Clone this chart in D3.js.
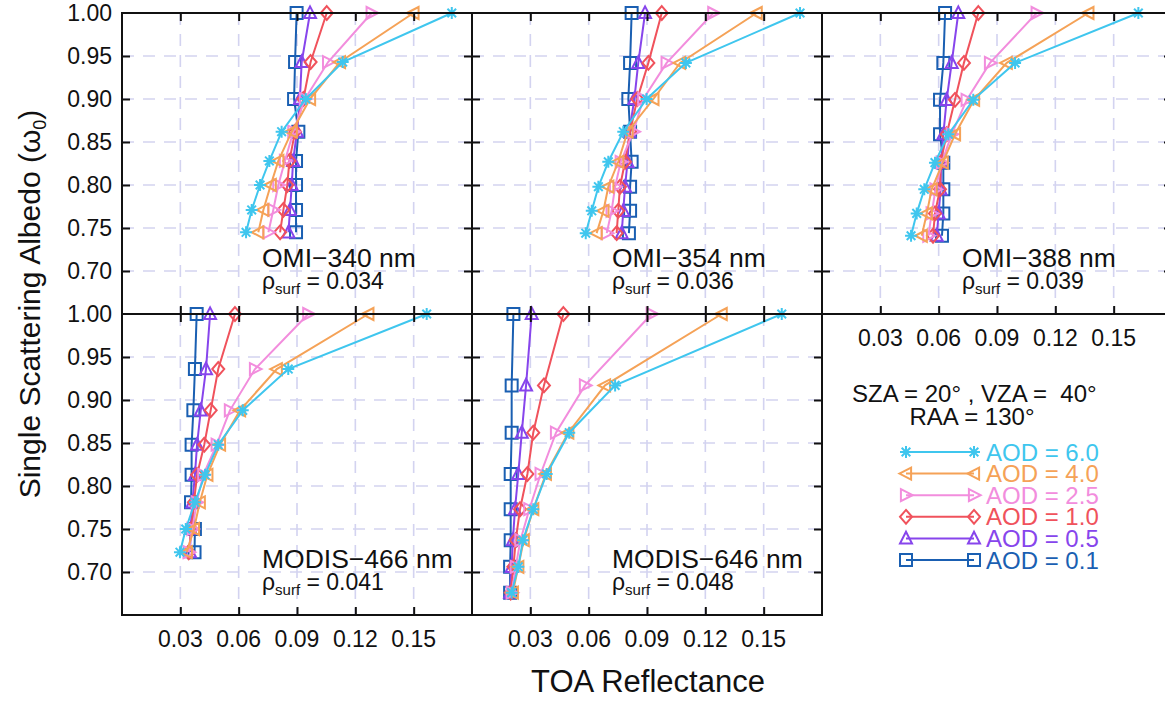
<!DOCTYPE html>
<html><head><meta charset="utf-8">
<script src="https://cdn.jsdelivr.net/npm/d3@7"></script>
<style>
body{margin:0;background:#fff}
svg{display:block}
text{font-family:"Liberation Sans",Arial,Helvetica,sans-serif;fill:#111}
</style>
</head><body><svg id="c" width="1165" height="701"></svg>
<script>
// ---------------- DATA ----------------
const panelNames = ["OMI\u2212340 nm","OMI\u2212354 nm","OMI\u2212388 nm","MODIS\u2212466 nm","MODIS\u2212646 nm"];
const rhoSurf = ["0.034","0.036","0.039","0.041","0.048"];
const aodLabels = ["6.0","4.0","2.5","1.0","0.5","0.1"];
const aodColors = ["#3fc6ee","#f5a257","#f28ddd","#f0525c","#8745ec","#1a5fb2"];
const aodMarkers = ["asterisk","triLeft","triRight","diamond","triUp","square"];
const yTicks = [0.70,0.75,0.80,0.85,0.90,0.95,1.00];
const xTicks = [0.03,0.06,0.09,0.12,0.15];

// single scattering albedo per panel
const ssa340 = [1.00,0.943,0.900,0.862,0.828,0.800,0.771,0.745];
const ssa354 = [1.00,0.942,0.900,0.862,0.827,0.798,0.770,0.744];
const ssa388 = [1.00,0.942,0.899,0.859,0.826,0.795,0.767,0.741];
const ssa466 = [1.00,0.936,0.888,0.848,0.813,0.781,0.750,0.723];
const ssa646 = [1.00,0.917,0.862,0.814,0.773,0.737,0.706,0.676];

// TOA reflectance, rows in aodLabels order (6.0,4.0,2.5,1.0,0.5,0.1)
const toa340 = [
  [0.1696,0.1135,0.0945,0.0821,0.0758,0.0710,0.0667,0.0638],
  [0.1499,0.1121,0.0967,0.0873,0.0804,0.0765,0.0727,0.0701],
  [0.1284,0.1060,0.0941,0.0881,0.0838,0.0804,0.0778,0.0753],
  [0.1053,0.0970,0.0933,0.0890,0.0861,0.0850,0.0830,0.0813],
  [0.0967,0.0924,0.0915,0.0900,0.0880,0.0873,0.0864,0.0856],
  [0.0898,0.0890,0.0885,0.0907,0.0895,0.0895,0.0895,0.0895]
];
const toa354 = [
  [0.1687,0.1100,0.0898,0.0778,0.0701,0.0650,0.0616,0.0585],
  [0.1464,0.1070,0.0933,0.0800,0.0752,0.0701,0.0676,0.0641],
  [0.1241,0.1001,0.0881,0.0830,0.0765,0.0736,0.0718,0.0693],
  [0.0976,0.0907,0.0850,0.0813,0.0787,0.0761,0.0752,0.0744],
  [0.0890,0.0855,0.0835,0.0809,0.0800,0.0787,0.0778,0.0770],
  [0.0821,0.0813,0.0804,0.0813,0.0821,0.0813,0.0813,0.0807]
];
const toa388 = [
  [0.1627,0.0993,0.0778,0.0650,0.0581,0.0526,0.0487,0.0458],
  [0.1370,0.0950,0.0782,0.0684,0.0621,0.0564,0.0539,0.0513],
  [0.1104,0.0864,0.0744,0.0667,0.0616,0.0584,0.0564,0.0547],
  [0.0804,0.0730,0.0684,0.0641,0.0610,0.0607,0.0581,0.0571],
  [0.0701,0.0667,0.0641,0.0624,0.0612,0.0610,0.0600,0.0590],
  [0.0633,0.0624,0.0607,0.0607,0.0624,0.0624,0.0624,0.0617]
];
const toa466 = [
  [0.1567,0.0855,0.0621,0.0495,0.0427,0.0375,0.0328,0.0298],
  [0.1267,0.0796,0.0607,0.0504,0.0439,0.0400,0.0370,0.0333],
  [0.0958,0.0684,0.0555,0.0487,0.0418,0.0384,0.0362,0.0343],
  [0.0581,0.0495,0.0456,0.0423,0.0386,0.0370,0.0357,0.0343],
  [0.0453,0.0432,0.0405,0.0386,0.0375,0.0362,0.0353,0.0350],
  [0.0384,0.0375,0.0367,0.0358,0.0358,0.0355,0.0375,0.0373]
];
const toa646 = [
  [0.1593,0.0736,0.0500,0.0384,0.0315,0.0262,0.0238,0.0204],
  [0.1284,0.0684,0.0495,0.0380,0.0315,0.0266,0.0238,0.0210],
  [0.0924,0.0581,0.0432,0.0353,0.0295,0.0249,0.0225,0.0204],
  [0.0470,0.0370,0.0315,0.0285,0.0247,0.0225,0.0213,0.0199],
  [0.0307,0.0278,0.0256,0.0238,0.0221,0.0210,0.0204,0.0196],
  [0.0213,0.0204,0.0204,0.0199,0.0199,0.0199,0.0196,0.0196]
];
const ssaByPanel = [ssa340,ssa354,ssa388,ssa466,ssa646];
const toaByPanel = [toa340,toa354,toa388,toa466,toa646];

// ---------------- LAYOUT ----------------
const svg = d3.select("#c");
const gridLeft = 122, gridTop = 13, pw = 350, ph = 301;
const cells = [[0,0],[1,0],[2,0],[0,1],[1,1]]; // [col,row]
const xDomain = [0,0.18], yDomain = [0.65,1.00];

function markerPath(type, r){
  const p = d3.path();
  if(type==="square"){ p.rect(-r,-r,2*r,2*r); }
  else if(type==="diamond"){ p.moveTo(0,-r*1.15);p.lineTo(r,0);p.lineTo(0,r*1.15);p.lineTo(-r,0);p.closePath(); }
  else if(type==="triUp"){ p.moveTo(0,-r*1.1);p.lineTo(r,r*0.85);p.lineTo(-r,r*0.85);p.closePath(); }
  else if(type==="triLeft"){ p.moveTo(-r*1.1,0);p.lineTo(r*0.85,-r);p.lineTo(r*0.85,r);p.closePath(); }
  else if(type==="triRight"){ p.moveTo(r*1.1,0);p.lineTo(-r*0.85,-r);p.lineTo(-r*0.85,r);p.closePath(); }
  else if(type==="asterisk"){
    p.moveTo(0,-r);p.lineTo(0,r);
    p.moveTo(-r,0);p.lineTo(r,0);
    const d=r*0.72;
    p.moveTo(-d,-d);p.lineTo(d,d);
    p.moveTo(-d,d);p.lineTo(d,-d);
  }
  return p.toString();
}

const gridG = svg.append("g");
const dataG = svg.append("g");
const frameG = svg.append("g");

cells.forEach(([c,r],i)=>{
  const x0 = gridLeft + c*pw, y0 = gridTop + r*ph;
  const x = d3.scaleLinear().domain(xDomain).range([x0, x0+pw]);
  const y = d3.scaleLinear().domain(yDomain).range([y0+ph, y0]);

  // dashed grid
  const g = gridG.append("g");
  g.selectAll("line.v").data(xTicks).join("line")
    .attr("x1",d=>x(d)).attr("x2",d=>x(d)).attr("y1",y0).attr("y2",y0+ph)
    .attr("stroke","#d3d3f0").attr("stroke-width",1.6).attr("stroke-dasharray","12,9");
  g.selectAll("line.h").data(yTicks.filter(t=>t<1)).join("line")
    .attr("y1",d=>y(d)).attr("y2",d=>y(d)).attr("x1",x0).attr("x2",x0+pw)
    .attr("stroke","#d3d3f0").attr("stroke-width",1.6).attr("stroke-dasharray","12,9");

  // frame with inward ticks using d3 axes
  const f = frameG.append("g");
  f.append("g").attr("transform",`translate(0,${y0+ph})`)
    .call(d3.axisBottom(x).tickValues(xTicks).tickSizeInner(-8).tickSizeOuter(0).tickFormat(""));
  f.append("g").attr("transform",`translate(0,${y0})`)
    .call(d3.axisTop(x).tickValues(xTicks).tickSizeInner(-8).tickSizeOuter(0).tickFormat(""));
  f.append("g").attr("transform",`translate(${x0},0)`)
    .call(d3.axisLeft(y).tickValues(yTicks.filter(t=>t<1)).tickSizeInner(-8).tickSizeOuter(0).tickFormat(""));
  f.append("g").attr("transform",`translate(${x0+pw},0)`)
    .call(d3.axisRight(y).tickValues(yTicks.filter(t=>t<1)).tickSizeInner(-8).tickSizeOuter(0).tickFormat(""));
  f.selectAll(".domain").attr("stroke","none");
  f.selectAll(".tick line").attr("stroke","#111").attr("stroke-width",2);
  f.append("rect").attr("x",x0).attr("y",y0).attr("width",pw).attr("height",ph)
    .attr("fill","none").attr("stroke","#111").attr("stroke-width",2);

  // y tick labels (left column only)
  if(c===0){
    frameG.append("g").selectAll("text").data(yTicks).join("text")
      .attr("x",x0-10).attr("y",d=>y(d)+8).attr("text-anchor","end")
      .attr("font-size",23).text(d=>d.toFixed(2));
  }
  // x tick labels (panels with nothing below)
  if(r===1 || c===2){
    frameG.append("g").selectAll("text").data(xTicks).join("text")
      .attr("x",d=>x(d)).attr("y",y0+ph+32).attr("text-anchor","middle")
      .attr("font-size",23).text(d=>d.toFixed(2));
  }

  // series (draw 0.1 first so 6.0 ends on top)
  const ssa = ssaByPanel[i], toa = toaByPanel[i];
  const line = d3.line().x(d=>x(d[0])).y(d=>y(d[1]));
  for(let s=aodLabels.length-1;s>=0;s--){
    const pts = toa[s].map((v,k)=>[v,ssa[k]]);
    const sg = dataG.append("g");
    sg.append("path").attr("d",line(pts)).attr("fill","none")
      .attr("stroke",aodColors[s]).attr("stroke-width",2);
    sg.selectAll("path.m").data(pts).join("path")
      .attr("transform",d=>`translate(${x(d[0])},${y(d[1])})`)
      .attr("d",markerPath(aodMarkers[s],6)).attr("fill","none")
      .attr("stroke",aodColors[s]).attr("stroke-width",2);
  }

  // panel labels
  frameG.append("text").attr("x",x0+140).attr("y",y0+254).attr("font-size",26.5).text(panelNames[i]);
  const t = frameG.append("text").attr("x",x0+140).attr("y",y0+276).attr("font-size",23);
  t.append("tspan").text("\u03c1");
  t.append("tspan").attr("font-size",15).attr("dy",5).text("surf");
  t.append("tspan").attr("dy",-5).text(" = "+rhoSurf[i]);
});

// axis titles
svg.append("text").attr("transform","translate(40,304) rotate(-90)")
  .attr("text-anchor","middle").attr("font-size",30)
  .call(t=>{
    t.append("tspan").text("Single Scattering Albedo (\u03c9");
    t.append("tspan").attr("font-size",18).attr("dy",6).text("0");
    t.append("tspan").attr("dy",-6).text(")");
  });
svg.append("text").attr("x",648).attr("y",692).attr("text-anchor","middle")
  .attr("font-size",31).text("TOA Reflectance");

// geometry annotation
svg.append("text").attr("x",852).attr("y",402).attr("font-size",24).attr("xml:space","preserve")
  .text("SZA = 20\u00b0 , VZA =  40\u00b0");
svg.append("text").attr("x",972).attr("y",425).attr("text-anchor","middle").attr("font-size",24)
  .text("RAA = 130\u00b0");

// legend
const leg = svg.append("g");
aodLabels.forEach((a,s)=>{
  const yy = 452 + s*21.6;
  leg.append("line").attr("x1",906).attr("x2",974).attr("y1",yy).attr("y2",yy)
    .attr("stroke",aodColors[s]).attr("stroke-width",2);
  [906,974].forEach(xx=>{
    leg.append("path").attr("transform",`translate(${xx},${yy})`)
      .attr("d",markerPath(aodMarkers[s],6)).attr("fill","none")
      .attr("stroke",aodColors[s]).attr("stroke-width",2);
  });
  leg.append("text").attr("x",986).attr("y",yy+8.5).attr("font-size",24)
    .style("fill",aodColors[s]).text("AOD = "+a);
});
</script>
</body></html>
